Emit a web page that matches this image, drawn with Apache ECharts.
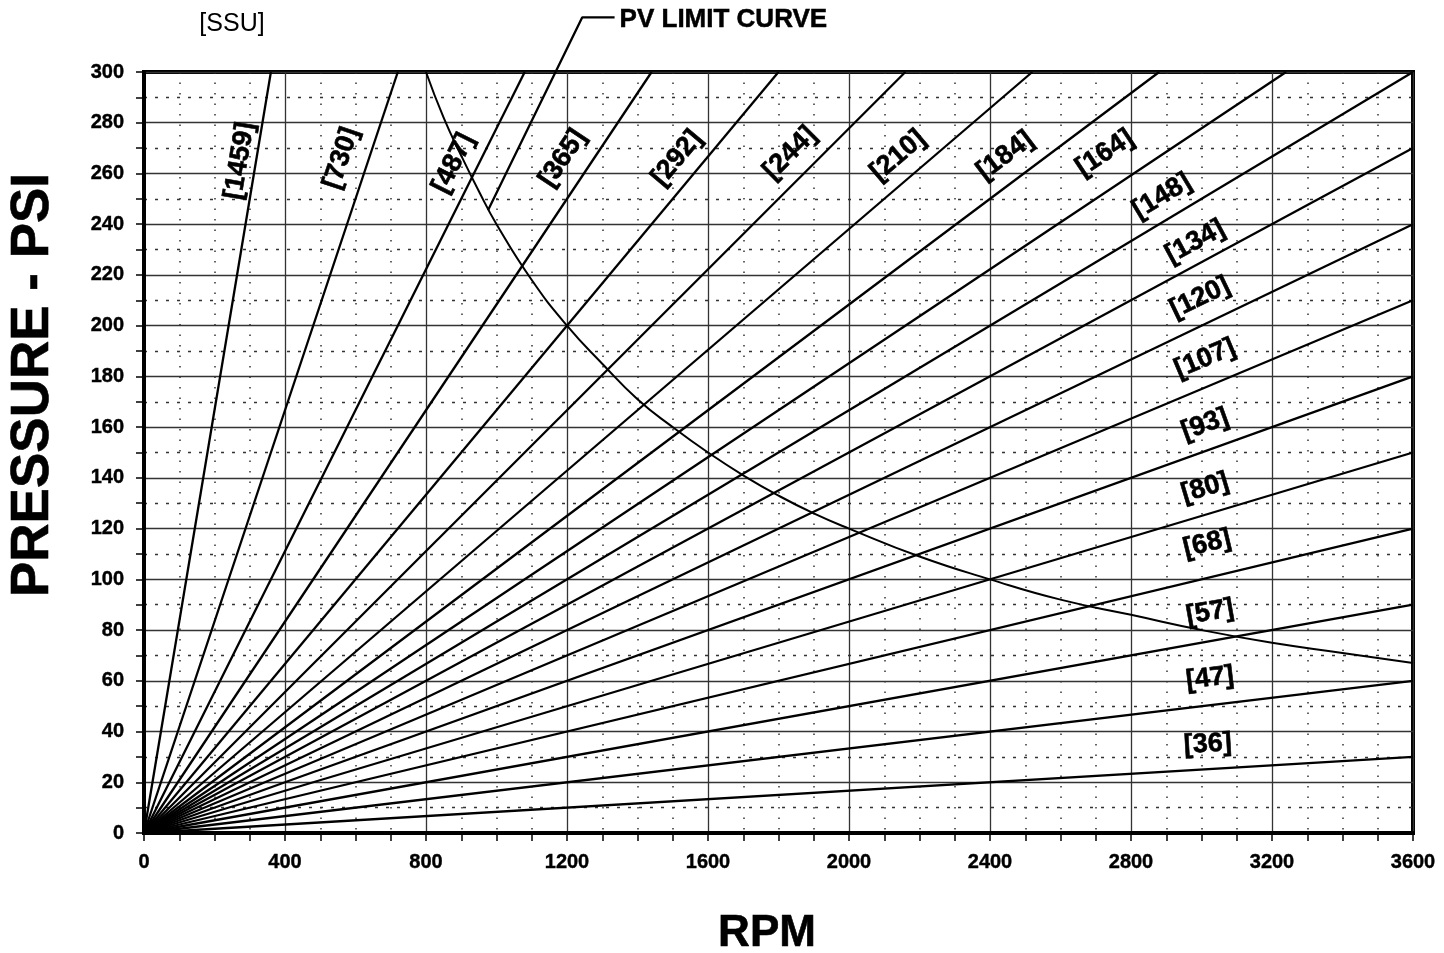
<!DOCTYPE html>
<html><head><meta charset="utf-8">
<script src="https://cdn.jsdelivr.net/npm/echarts@6/dist/echarts.min.js"></script>
<style>html,body{margin:0;padding:0;background:#fff}#c{width:1444px;height:953px}</style>
</head><body><div id="c"></div>
<script>
// Viscosity lines (SSU) — each drawn from the origin to its end point
const ssuLabels = ['[1459]','[730]','[487]','[365]','[292]','[244]','[210]','[184]','[164]','[148]','[134]','[120]','[107]','[93]','[80]','[68]','[57]','[47]','[36]'];
const lineEndRpm = [360,720,1080,1440,1800,2160,2520,2880,3240,3600,3600,3600,3600,3600,3600,3600,3600,3600,3600];
const lineEndPsi = [300,300,300,300,300,300,300,300,300,300,270,240,210,180,150,120,90,60,30];
// Annotation anchor points for the labels (data coordinates)
const labelRpm = [272,560,878,1188,1512,1833,2139,2443,2726,2888,2982,2996,3010,3010,3010,3016,3024,3024,3018];
const labelPsi = [265,266,264,266,266,268,267,267,268,251,233,211,187,161,136,114,87,61,35];
// PV limit curve
const pvRpm = [800,850,900,950,1000,1100,1200,1300,1400,1500,1600,1700,1800,1900,2000,2200,2400,2600,2800,3000,3200,3400,3600];
const pvPsi = [300,282,267,253,240,218,200,185,171,160,150,141,133,126,120,109,100,92,86,80,75,71,67];
// Leader for the PV label
const leaderRpm = [976,1243,1335];
const leaderPsi = [245.5,321.5,321.5];

const FONT = '"Liberation Sans", Arial, sans-serif';
const chart = echarts.init(document.getElementById('c'), null, {renderer:'canvas'});

const series = [];
for (let i = 0; i < ssuLabels.length; i++) {
  series.push({
    type:'line', name: ssuLabels[i], data:[[0,0],[lineEndRpm[i], lineEndPsi[i]]],
    symbol:'none', silent:true, animation:false,
    lineStyle:{color:'#000', width:2.3}
  });
}
series.push({
  type:'line', name:'PV', data: pvRpm.map((r,i)=>[r,pvPsi[i]]), smooth:true,
  symbol:'none', silent:true, animation:false, lineStyle:{color:'#000', width:2}
});
series.push({
  type:'line', name:'leader', data: leaderRpm.map((r,i)=>[r,leaderPsi[i]]), clip:false,
  symbol:'none', silent:true, animation:false, lineStyle:{color:'#000', width:2.3}
});

const tickStyle = {color:'#000', width:1.5};
const labelStyle = {fontFamily:FONT, fontWeight:'bold', fontSize:20, color:'#000',
  textBorderColor:'#000', textBorderWidth:0.4, formatter: v => String(v)};
const option = {
  animation:false,
  backgroundColor:'#fff',
  grid:{left:144, right:31, top:72, bottom:120, show:true, borderColor:'#000', borderWidth:4,
        containLabel:false, outerBoundsMode:'none'},
  xAxis:{
    type:'value', min:0, max:3600, interval:400,
    axisLine:{show:true, lineStyle:{color:'#000', width:4}},
    axisTick:{show:true, length:8, lineStyle:tickStyle},
    minorTick:{show:true, splitNumber:4, length:8, lineStyle:tickStyle},
    axisLabel:Object.assign({margin:19}, labelStyle),
    splitLine:{show:true, lineStyle:{color:'#333', width:1.3}},
    minorSplitLine:{show:true, lineStyle:{color:'#333', width:1.5, type:[1.5,9]}}
  },
  yAxis:{
    type:'value', min:0, max:300, interval:20,
    axisLine:{show:true, lineStyle:{color:'#000', width:4}},
    axisTick:{show:true, length:8, lineStyle:tickStyle},
    minorTick:{show:true, splitNumber:2, length:8, lineStyle:tickStyle},
    axisLabel:Object.assign({margin:20}, labelStyle),
    splitLine:{show:true, lineStyle:{color:'#333', width:1.3}},
    minorSplitLine:{show:true, lineStyle:{color:'#333', width:1.3, type:[3,8]}}
  },
  series: series
};
chart.setOption(option);

function txt(x, y, text, size, weight, rot, align, stroke) {
  const style = {text:text, fontFamily:FONT, fontWeight:weight, fontSize:size, fill:'#000',
      align:align || 'center', verticalAlign:'middle', textAlign:align || 'center', textVerticalAlign:'middle'};
  if (stroke) { style.stroke = '#000'; style.lineWidth = stroke; }
  return { type:'text', x:x, y:y, rotation:rot || 0, z:100, style:style };
}
const graphics = [];
for (let i = 0; i < ssuLabels.length; i++) {
  const p0 = chart.convertToPixel({gridIndex:0},[0,0]);
  const p1 = chart.convertToPixel({gridIndex:0},[lineEndRpm[i], lineEndPsi[i]]);
  const ang = Math.atan2(p0[1]-p1[1], p1[0]-p0[0]);
  const pos = chart.convertToPixel({gridIndex:0},[labelRpm[i], labelPsi[i]]);
  graphics.push(txt(pos[0], pos[1], ssuLabels[i], 27, 'bold', ang, 'center', 0.6));
}
const le = chart.convertToPixel({gridIndex:0},[leaderRpm[2], leaderPsi[2]]);
graphics.push(txt(le[0] + 5, le[1] + 2, 'PV LIMIT CURVE', 26, 'bold', 0, 'left', 0.5));
graphics.push(txt(232, 24, '[SSU]', 25, 'normal', 0));
graphics.push(txt(767, 934, 'RPM', 44, 'bold', 0, 'center', 0.6));
graphics.push(txt(33, 385, 'PRESSURE - PSI', 53, 'bold', Math.PI/2, 'center', 0.6));
chart.setOption({graphic:graphics});
</script></body></html>
